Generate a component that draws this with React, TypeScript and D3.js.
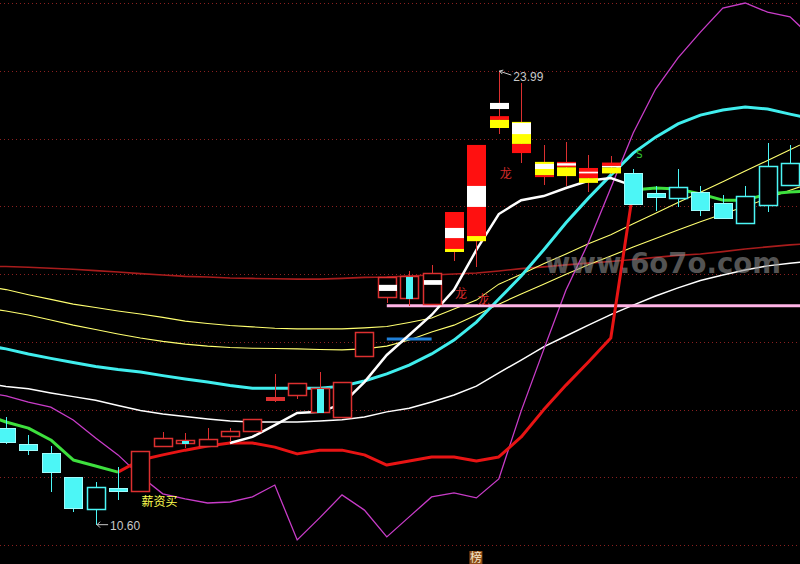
import React from 'react';
import * as d3 from 'd3';

const N = null;

// ---------- candles (index 0..35) ----------
const openP = [13.45,12.98,12.72,12.00,11.06,11.68,11.59,12.92,13.01,12.92,13.22,13.37,14.28,14.43,13.93,13.78,15.58,17.32,17.29,17.11,18.65,18.97,22.31,22.49,21.31,21.31,21.13,21.29,20.98,20.39,20.24,20.42,20.10,19.51,20.04,20.63];
const highP = [13.78,13.25,12.92,12.01,11.86,12.30,12.77,13.34,13.31,13.45,13.45,13.72,15.05,14.78,15.11,14.81,16.29,17.91,18.09,18.27,19.83,21.81,23.99,23.64,21.81,21.90,21.51,21.48,21.10,20.60,21.10,20.60,20.33,20.60,21.87,21.81];
const lowP = [12.98,12.66,11.56,10.97,10.60,11.33,11.59,12.92,12.86,12.92,13.04,13.37,14.22,14.31,13.93,13.78,15.58,17.14,17.06,17.11,18.38,18.21,22.13,21.28,20.63,20.60,20.42,20.95,20.07,19.86,19.98,19.71,19.65,19.51,19.83,20.63];
const closeP = [13.04,12.80,12.15,11.09,11.71,11.59,12.77,13.16,13.10,13.13,13.37,13.72,14.37,14.78,14.63,14.81,16.29,17.91,17.94,18.03,19.83,21.81,23.05,21.57,20.86,20.89,20.69,20.97,20.07,20.27,20.57,19.89,19.65,20.30,21.19,21.28];
const kinds = ['cf','cf','cf','cf','ch','cf','rh','rh','rhc','rh','rh','rh','rf','rh','rhc','rh','rh','rh','rhc','rh','b','b','b','b','b','b','b','b','cf','cf','ch','cf','cf','ch','ch','ch'];

type Band = [number, number] | null;
const redBands: Band[] = [N,N,N,N,N,N,N,N,N,N,N,N,N,N,N,N,N,N,N,N,[19.83,18.65],[21.81,18.97],[22.66,22.55],[21.84,21.57],[20.92,20.86],[21.31,21.15],[21.13,20.83],[21.29,21.19],N,N,N,N,N,N,N,N];
const yellowBands: Band[] = [N,N,N,N,N,N,N,N,N,N,N,N,N,N,N,N,N,N,N,N,[18.74,18.65],[19.12,18.97],[22.55,22.31],[22.49,21.84],[21.31,20.92],[21.15,20.89],[20.83,20.69],[21.15,20.97],N,N,N,N,N,N,N,N];
const whiteBands: Band[] = [N,N,N,N,N,N,N,N,N,N,N,N,N,N,N,N,N,[17.68,17.50],N,[17.82,17.68],[19.36,19.06],[20.60,19.98],[23.05,22.87],[22.46,22.13],[21.25,21.10],[21.27,21.20],[21.02,20.97],[21.19,21.15],N,N,N,N,N,N,N,N];

// ---------- indicator lines (index -1..36) ----------
const maLong = [18.23,18.22,18.20,18.17,18.14,18.10,18.06,18.01,17.97,17.93,17.91,17.88,17.87,17.86,17.85,17.85,17.87,17.90,17.91,17.94,17.97,18.00,18.03,18.09,18.16,18.21,18.27,18.32,18.37,18.43,18.49,18.55,18.59,18.66,18.74,18.80,18.86,18.90];
const maYellowA = [17.65,17.54,17.39,17.25,17.11,17.01,16.91,16.82,16.72,16.61,16.54,16.48,16.44,16.40,16.38,16.38,16.38,16.41,16.45,16.57,16.70,16.97,17.23,17.70,17.99,18.30,18.59,18.89,19.16,19.48,19.79,20.11,20.41,20.72,21.04,21.35,21.67,21.98];
const maYellowB = [17.00,16.91,16.79,16.64,16.49,16.36,16.23,16.11,16.01,15.93,15.87,15.83,15.81,15.80,15.79,15.77,15.76,15.79,15.87,16.05,16.29,16.49,16.79,17.11,17.41,17.70,17.99,18.27,18.53,18.80,19.05,19.30,19.54,19.77,19.99,20.23,20.47,20.70];
const midCyan = [15.90,15.79,15.64,15.51,15.39,15.27,15.18,15.11,15.00,14.90,14.81,14.71,14.63,14.63,14.63,14.63,14.69,14.84,15.05,15.31,15.64,16.05,16.58,17.26,17.94,18.71,19.51,20.24,20.92,21.57,22.04,22.43,22.69,22.84,22.93,22.87,22.72,22.58];
const slowWhite = [14.78,14.68,14.61,14.49,14.38,14.27,14.12,13.97,13.87,13.79,13.72,13.66,13.63,13.63,13.63,13.66,13.70,13.78,13.93,14.04,14.22,14.43,14.69,15.08,15.46,15.85,16.17,16.49,16.80,17.08,17.35,17.59,17.81,17.97,18.12,18.24,18.32,18.38];
const fastWhite: (number | null)[] = [N,N,N,N,N,N,N,N,N,N,N,13.01,13.19,13.54,13.90,13.93,14.16,14.81,15.61,16.20,16.79,17.53,18.71,19.77,20.18,20.30,20.54,20.75,20.83,20.60,N,N,N,N,N,N,N,N];
const bandLine = [13.87,13.63,13.45,13.10,12.51,12.33,12.15,12.51,12.66,12.80,12.92,13.01,13.01,12.89,12.69,12.80,12.80,12.66,12.36,12.48,12.60,12.60,12.48,12.60,13.19,13.99,14.72,15.40,16.11,20.48,20.54,20.51,20.36,20.18,20.18,20.36,20.42,20.45];
const bandState = ['g','g','g','g','g','g','r','r','r','r','r','r','r','r','r','r','r','r','r','r','r','r','r','r','r','r','r','r','r','g','g','g','g','g','g','g','g','g'];
const magentaLine = [14.52,14.40,14.22,14.07,13.69,13.16,12.66,12.04,11.51,11.36,11.24,11.27,11.42,11.77,10.15,10.80,11.48,11.03,10.24,10.83,11.42,11.54,11.39,11.95,13.96,15.76,17.53,18.92,20.54,22.16,23.46,24.38,25.14,25.85,26.00,25.73,25.59,24.97];

// ---------- level lines ----------
const supportPrice = 17.06;
const supportFrom = 17;
const bluePrice = 16.08;
const blueFrom = 17;
const blueTo = 19;

// ---------- labels ----------
const highLabel = { idx: 22, price: 23.99, text: '23.99' };
const lowLabel = { idx: 4, price: 10.60, text: '10.60' };
const noteTexts = ['薪资买', '龙', '龙', '龙'];
const noteIdx = [6, 22, 20, 21];
const notePrice = [11.15, 20.83, 17.29, 17.11];
const noteColors = ['#ffff50', '#d42a2a', '#d42a2a', '#d42a2a'];
const sText = { text: 'S', idx: 28, price: 21.42 };
const bottomTag = { text: '榜', idx: 21 };
const watermark = 'www.6o7o.com';

const RED = '#dc3030';
const CYAN = '#4cf6f6';

export default function App() {
  const x = d3.scaleLinear().domain([0, 35]).range([6, 790]);
  const y = d3.scaleLinear().domain([10, 26]).range([545, 3]);
  const lineIdx = d3.range(-1, 37);
  const gridTicks = d3.range(10, 27, 2);
  const lineGen = d3
    .line<number | null>()
    .defined((v) => v !== null)
    .x((_, i) => x(lineIdx[i]))
    .y((v) => y(v as number));

  const bandSegs: { color: string; d: string }[] = [];
  let s = 0;
  for (let i = 1; i < bandState.length; i++) {
    const last = i === bandState.length - 1;
    if (bandState[i] !== bandState[s] || last) {
      const pts = d3.range(s, i + 1).map((j) => [x(lineIdx[j]), y(bandLine[j])] as [number, number]);
      bandSegs.push({ color: bandState[s] === 'r' ? '#e81414' : '#3ee03e', d: d3.line()(pts) || '' });
      s = i;
    }
  }

  const hw = 9;
  const candles = openP.map((o, i) => {
    const c = closeP[i];
    const cx = Math.round(x(i));
    const k = kinds[i];
    const yt = Math.round(y(Math.max(o, c)));
    const yb = Math.round(y(Math.min(o, c)));
    const yh = Math.round(y(highP[i]));
    const yl = Math.round(y(lowP[i]));
    const col = k === 'cf' || k === 'ch' ? CYAN : RED;
    const els: React.ReactNode[] = [];
    const hollow = k === 'ch' || k === 'rh' || k === 'rhc';
    if (hollow) {
      if (yh < yt) els.push(<line key="wt" x1={cx + 0.5} x2={cx + 0.5} y1={yh} y2={yt} stroke={col} />);
      if (yl > yb) els.push(<line key="wb" x1={cx + 0.5} x2={cx + 0.5} y1={yb} y2={yl} stroke={col} />);
      els.push(
        <rect key="b" x={cx - hw + 0.5} y={yt + 0.5} width={hw * 2} height={Math.max(1, yb - yt)} fill="#000" stroke={col} strokeWidth={1.5} />
      );
      if (k === 'rhc') {
        els.push(<rect key="ic" x={cx - 3} y={yt + 1} width={7} height={Math.max(1, yb - yt)} fill={CYAN} />);
      }
      const wb = whiteBands[i];
      if (wb) {
        els.push(<rect key="wband" x={cx - hw + 1} y={y(wb[0])} width={hw * 2} height={y(wb[1]) - y(wb[0])} fill="#fff" />);
      }
    } else if (k === 'cf' || k === 'rf') {
      els.push(<line key="w" x1={cx + 0.5} x2={cx + 0.5} y1={yh} y2={yl} stroke={col} />);
      els.push(
        <rect key="b" x={cx - hw + 0.5} y={yt + 0.5} width={hw * 2} height={Math.max(2, yb - yt)} fill={col} stroke={k === 'cf' ? '#9ffcfc' : col} strokeWidth={1} />
      );
    } else {
      els.push(<line key="w" x1={cx + 0.5} x2={cx + 0.5} y1={yh} y2={yl} stroke={RED} />);
      const bands: [Band, string][] = [
        [redBands[i], '#ff1010'],
        [yellowBands[i], '#ffff00'],
        [whiteBands[i], '#ffffff'],
      ];
      bands.forEach(([b, fc], j) => {
        if (b) {
          els.push(
            <rect key={'bd' + j} x={cx - hw} y={y(b[0])} width={hw * 2 + 1} height={Math.max(1, y(b[1]) - y(b[0]))} fill={fc} />
          );
        }
      });
    }
    return <g key={i}>{els}</g>;
  });

  const hx = x(highLabel.idx) + 0.5;
  const hy = y(highLabel.price);
  const lx = x(lowLabel.idx) + 0.5;
  const ly = y(lowLabel.price);

  return (
    <svg
      width={800}
      height={564}
      viewBox="0 0 800 564"
      style={{ position: 'absolute', left: 0, top: 0, display: 'block', background: '#000' }}
    >
      <rect x={0} y={0} width={800} height={564} fill="#000" />
      {gridTicks.map((t) => (
        <line key={t} x1={0} x2={800} y1={Math.round(y(t)) + 0.5} y2={Math.round(y(t)) + 0.5} stroke="#8a2020" strokeDasharray="1,3" shapeRendering="crispEdges" />
      ))}
      <path d={lineGen(maLong) || ''} fill="none" stroke="#a81c1c" strokeWidth={1.6} />
      <path d={lineGen(maYellowA) || ''} fill="none" stroke="#ffff70" strokeWidth={1.1} />
      <path d={lineGen(maYellowB) || ''} fill="none" stroke="#ffff70" strokeWidth={1.1} />
      <path d={lineGen(slowWhite) || ''} fill="none" stroke="#ffffff" strokeWidth={1.5} />
      <path d={lineGen(midCyan) || ''} fill="none" stroke="#40eeee" strokeWidth={3} />
      <path d={lineGen(magentaLine) || ''} fill="none" stroke="#c83cc8" strokeWidth={1.3} />
      <line x1={x(supportFrom)} x2={800} y1={y(supportPrice)} y2={y(supportPrice)} stroke="#ffb4e6" strokeWidth={3} />
      <line x1={x(blueFrom)} x2={x(blueTo)} y1={y(bluePrice)} y2={y(bluePrice)} stroke="#2080d8" strokeWidth={3} />
      {bandSegs.map((sg, i) => (
        <path key={i} d={sg.d} fill="none" stroke={sg.color} strokeWidth={3} strokeLinejoin="round" />
      ))}
      <path d={lineGen(fastWhite) || ''} fill="none" stroke="#ffffff" strokeWidth={2.5} />
      <g>{candles}</g>

      {/* high / low labels */}
      <path d={`M${hx},${hy} L${hx + 12},${hy + 4} M${hx + 4},${hy - 1} L${hx},${hy} L${hx + 3},${hy + 3}`} fill="none" stroke="#c8c8c8" strokeWidth={1} />
      <text x={hx + 14} y={hy + 10} fill="#c8c8c8" fontSize={12} fontFamily="'Liberation Sans', Arial, sans-serif">{highLabel.text}</text>
      <path d={`M${lx + 1},${ly} L${lx + 12},${ly} M${lx + 4},${ly - 3} L${lx + 1},${ly} L${lx + 4},${ly + 3}`} fill="none" stroke="#c8c8c8" strokeWidth={1} />
      <text x={lx + 14} y={ly + 5.5} fill="#c8c8c8" fontSize={12} fontFamily="'Liberation Sans', Arial, sans-serif">{lowLabel.text}</text>

      {noteTexts.map((t, i) => (
        <text key={i} x={x(noteIdx[i]) + 1} y={y(notePrice[i])} fill={noteColors[i]} fontSize={12} fontFamily="'Noto Sans CJK SC', sans-serif">{t}</text>
      ))}
      <text x={x(sText.idx) + 3} y={y(sText.price)} fill="#30c030" fontSize={10} fontFamily="'DejaVu Sans', sans-serif">{sText.text}</text>

      <rect x={x(bottomTag.idx) - 7} y={551} width={13} height={13} fill="#8b4a16" />
      <text x={x(bottomTag.idx) - 0.5} y={562} textAnchor="middle" fill="#f5e6c8" fontSize={12} fontFamily="'Noto Sans CJK SC', sans-serif">{bottomTag.text}</text>

      <text x={545} y={273} fill="#8c8c8c" fillOpacity={0.6} fontSize={28} fontWeight="bold" fontFamily="'DejaVu Sans', sans-serif" textLength={236} lengthAdjust="spacingAndGlyphs">{watermark}</text>
    </svg>
  );
}
